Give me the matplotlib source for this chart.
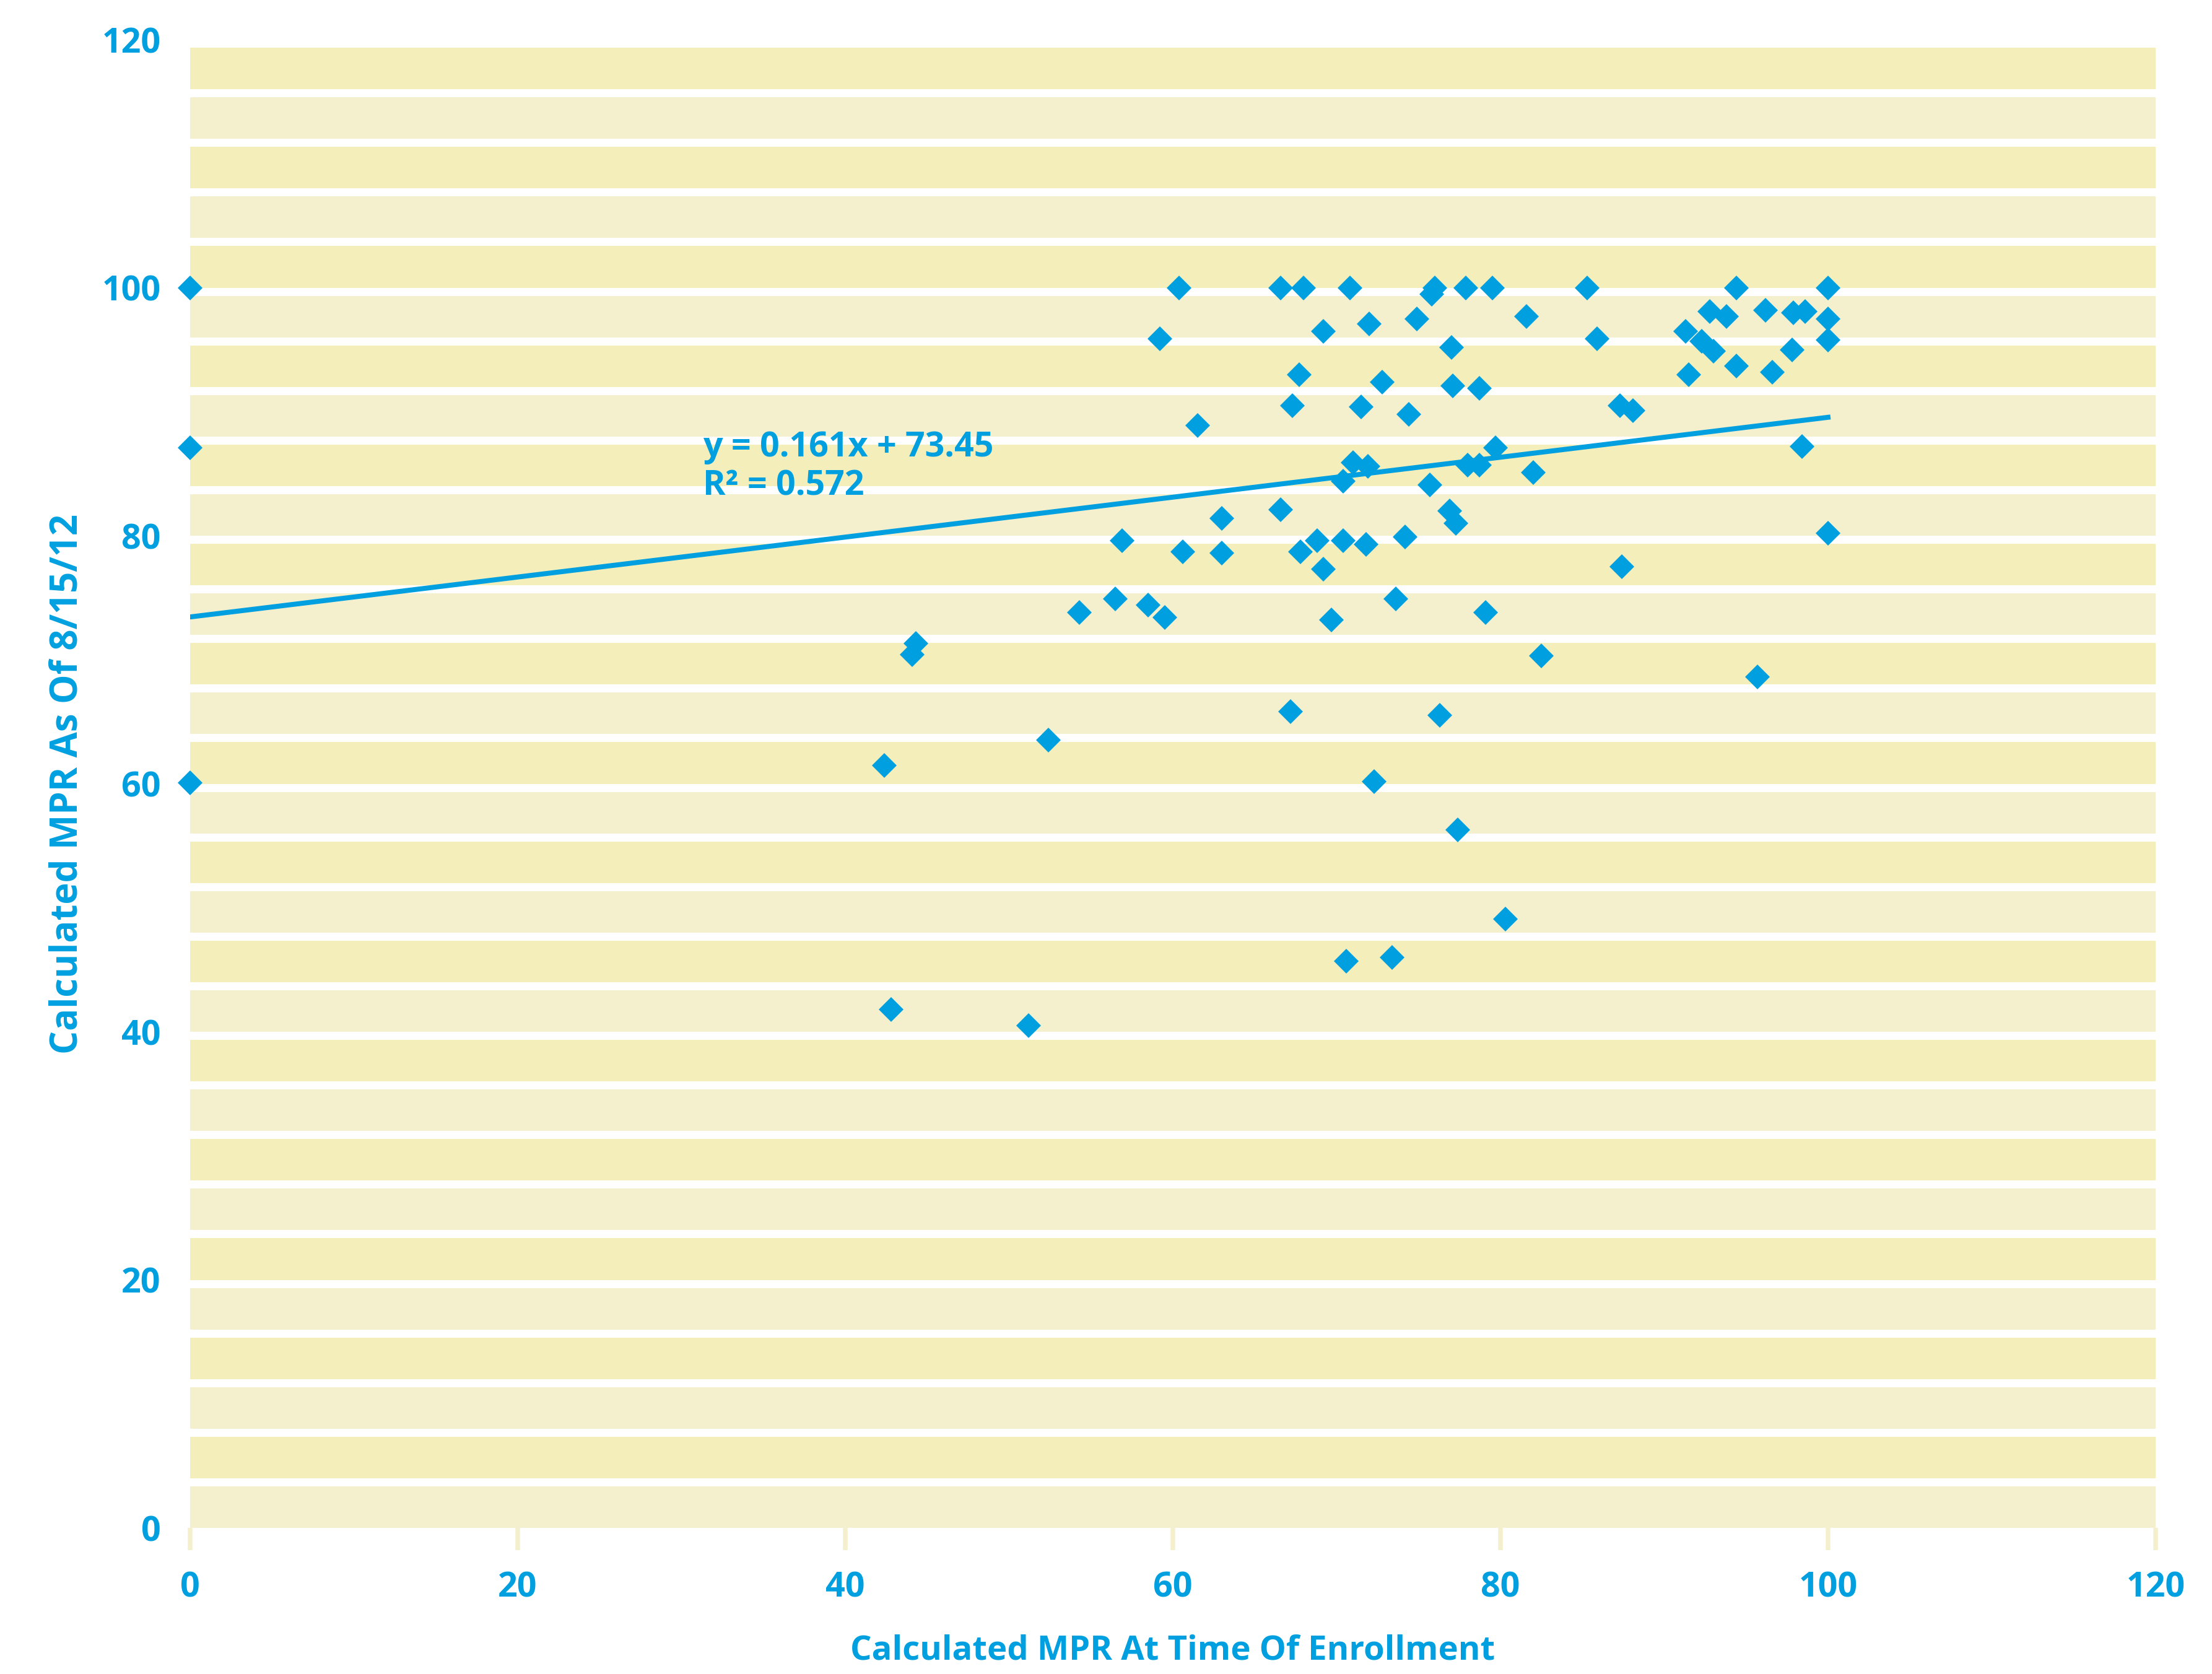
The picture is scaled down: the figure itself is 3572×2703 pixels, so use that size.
import matplotlib
matplotlib.use("Agg")
import matplotlib.pyplot as plt
import numpy as np

plt.rcParams['font.family'] = ['Open Sans', 'DejaVu Sans']
plt.rcParams['font.weight'] = 'bold'

# values
mpr_enroll = [0, 0, 0,
              42.4, 42.8, 44.1, 44.3, 51.2, 52.4, 54.3, 56.5, 56.9, 58.5, 59.2, 59.5,
              60.4, 60.6, 61.5, 63.0, 63.0, 66.6, 66.6, 67.3, 67.2, 67.7, 67.8, 68.0,
              68.8, 69.2, 69.2, 69.7, 70.4, 70.4, 70.6, 70.8, 71.0, 71.5, 71.8, 71.9,
              72.0, 72.3, 72.8, 73.4, 73.6, 74.2, 74.4, 74.9, 75.7, 75.8, 76.0, 76.3,
              76.9, 77.0, 77.1, 77.3, 77.4, 77.9, 78.0, 78.7, 78.7, 79.1, 79.5, 79.7,
              80.3, 81.6, 82.0, 82.5, 85.3, 85.9, 87.3, 87.4, 88.1, 91.3, 91.5, 92.3,
              92.8, 93.0, 93.8, 94.4, 94.4, 95.7, 96.2, 96.6, 97.9, 97.8, 98.6, 98.4,
              100, 100, 100, 100]
mpr_now = [100, 87.1, 60.1,
           61.5, 41.8, 70.4, 71.3, 40.5, 63.5, 73.8, 74.9, 79.6, 74.4, 95.9, 73.4,
           100, 78.7, 88.9, 78.6, 81.4, 100, 82.1, 90.5, 65.8, 93.0, 78.7, 100,
           79.6, 77.3, 96.5, 73.2, 84.4, 79.6, 45.7, 100, 85.9, 90.4, 79.3, 85.6,
           97.1, 60.2, 92.4, 46.0, 74.9, 79.9, 89.8, 97.5, 84.1, 99.5, 100, 65.5,
           82.0, 95.2, 92.1, 81.0, 56.3, 100, 85.7, 85.7, 91.9, 73.8, 100, 87.1,
           49.1, 97.7, 85.1, 70.3, 100, 95.9, 90.5, 77.5, 90.1, 96.5, 93.0, 95.7,
           98.1, 94.9, 97.7, 93.7, 100, 68.6, 98.2, 93.2, 98.0, 95.0, 98.1, 87.2,
           100, 97.5, 95.8, 80.2]

trend_slope = 0.161
trend_intercept = 73.45
trend_r2 = 0.572
trend_x = [0, 100]

ticks = [0, 20, 40, 60, 80, 100, 120]

blue = '#00a0e0'
band_dark = '#f4efba'
band_light = '#f4f0cd'

fig = plt.figure(figsize=(17.86, 13.515), dpi=200)
ax = fig.add_axes([0.0859, 0.0873, 0.8886, 0.889])

# striped background bands
band_y = np.arange(0, 120, 4)
band_cols = [band_light if i % 2 == 0 else band_dark for i in range(len(band_y))]
ax.barh(band_y, 120, height=3.35, left=0, align='edge', color=band_cols,
        linewidth=0, zorder=0)

tx = np.array(trend_x)
ax.plot(tx, trend_slope * tx + trend_intercept, color=blue, lw=2.9, zorder=2)

ax.plot(mpr_enroll, mpr_now, linestyle='none', marker='D', markersize=10.3,
        color=blue, markeredgewidth=0, zorder=3, clip_on=False)

ax.text(31.3, 87.1, 'y = %.3fx + %.2f' % (trend_slope, trend_intercept),
        color=blue, fontsize=20, fontweight='bold', va='center', ha='left')
ax.text(31.3, 84.0, 'R² = %.3f' % trend_r2,
        color=blue, fontsize=20, fontweight='bold', va='center', ha='left')

ax.set_xlim(0, 120)
ax.set_ylim(0, 120)
ax.set_xticks(ticks)
ax.set_yticks(ticks)
for s in ax.spines.values():
    s.set_visible(False)
ax.set_facecolor('white')

ax.tick_params(axis='x', colors=band_light, length=13, width=2.7, direction='out',
               pad=12, labelcolor=blue, labelsize=20)
ax.tick_params(axis='y', length=0, pad=17, labelcolor=blue, labelsize=20)

ax.set_xlabel('Calculated MPR At Time Of Enrollment', color=blue, fontsize=19.6,
              fontweight='bold')
ax.set_ylabel('Calculated MPR As Of 8/15/12', color=blue, fontsize=21.5,
              fontweight='bold')
ax.xaxis.label.set_va('center')
ax.yaxis.label.set_va('center')
ax.xaxis.set_label_coords(0.5, -0.0824)
ax.yaxis.set_label_coords(-0.0624, 0.5)

fig.savefig('out.png', dpi=200, facecolor='white')
